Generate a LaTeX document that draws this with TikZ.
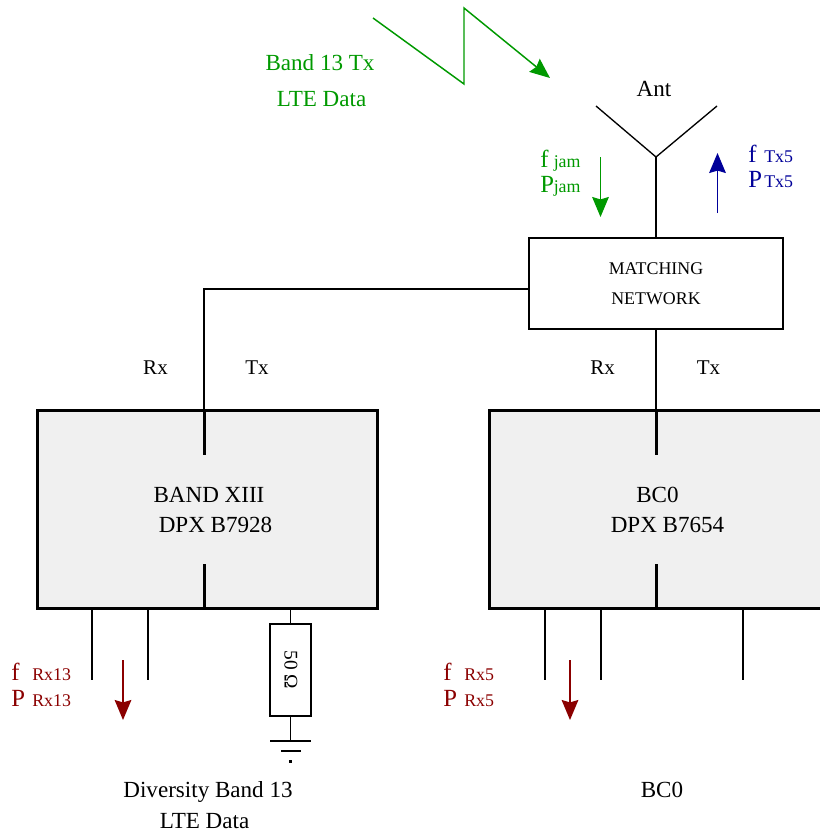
\documentclass[tikz,border=0pt]{standalone}
\usepackage{fontspec}
\setmainfont{Liberation Serif}
\usetikzlibrary{arrows.meta}
\definecolor{jamgreen}{HTML}{009900}
\definecolor{txblue}{HTML}{000099}
\definecolor{rxred}{HTML}{8B0000}
\definecolor{boxgray}{HTML}{F0F0F0}
\newcommand{\mainsize}{\fontsize{17.3}{20}\selectfont}
\newcommand{\subsize}{\fontsize{13.4}{16}\selectfont}

\begin{document}
\begin{tikzpicture}[x=0.75pt, y=-0.75pt,
  dpxbox/.style={rectangle, draw=black, fill=boxgray, line width=2.25pt, outer sep=0pt,
                 minimum width=255pt, minimum height=148.5pt},
  matchbox/.style={rectangle, draw=black, fill=white, line width=1pt, outer sep=0pt,
                   minimum width=190.5pt, minimum height=68.25pt},
  loadbox/.style={rectangle, draw=black, fill=white, line width=1pt, outer sep=0pt,
                  minimum width=30.75pt, minimum height=69pt},
  wire/.style={black, line width=1pt},
  port/.style={black, line width=2.25pt},
  flow/.style={-{Stealth[length=15pt, width=12.5pt, inset=1.8pt]}, line width=1.1pt},
  txt/.style={font=\mainsize, inner sep=0pt, anchor=base},
  symbig/.style={font=\fontsize{18.5}{20}\selectfont, inner sep=0pt, anchor=base west},
  sub/.style={font=\subsize, inner sep=0pt, anchor=base west}
]
\clip (0,0) rectangle (820,832);

%--- Blocks ---
\node[matchbox] (match) at (656,283.5) {};
\node[dpxbox] (dpxL) at (207,509) {};
\node[dpxbox] (dpxR) at (659,509) {};
\node[loadbox] (load) at (290.5,670) {};

%--- Block texts ---
\node[txt, font=\subsize] (matchA) at (656,274) {MATCHING};
\node[txt, font=\subsize] (matchB) at (656,304) {NETWORK};
\node[txt] (bandL) at (209,502) {BAND XIII};
\node[txt] (partL) at (215.5,532.5) {DPX B7928};
\node[txt] (bandR) at (657.5,502) {BC0};
\node[txt] (partR) at (667.5,532.5) {DPX B7654};
\node[font=\fontsize{14.5}{18}\selectfont, inner sep=0pt, rotate=-90] (ohm) at (291,670) {50 Ω};

%--- Antenna ---
\coordinate (apex) at (656,157);
\coordinate (armL) at (596,106);
\coordinate (armR) at (717,106);
\draw[wire] (armL) -- (apex) -- (armR);
\draw[wire] (apex) -- (match.north);
\node[txt] (ant) at (654,96) {Ant};

%--- Matching network to duplexers ---
\coordinate (tapL) at (529,289);
\coordinate (inL) at (204,410);
\coordinate (stubL) at (204,455);
\coordinate (outL) at (204,608);
\coordinate (backL) at (204,564);
\coordinate (inR) at (656,410);
\coordinate (stubR) at (656,455);
\coordinate (outR) at (656,608);
\coordinate (backR) at (656,564);
\draw[wire] (tapL) -| (inL);
\draw[wire] (match.south) -- (inR);
\draw[port] (inL) -- (stubL);
\draw[port] (backL) -- (outL);
\draw[port] (inR) -- (stubR);
\draw[port] (backR) -- (outR);

%--- Rx / Tx ---
\node[txt, font=\fontsize{15.75}{18}\selectfont] (rxL) at (155.5,374) {Rx};
\node[txt, font=\fontsize{15.75}{18}\selectfont] (txL) at (257,374) {Tx};
\node[txt, font=\fontsize{15.75}{18}\selectfont] (rxR) at (602.5,374) {Rx};
\node[txt, font=\fontsize{15.75}{18}\selectfont] (txR) at (708.5,374) {Tx};

%--- Output legs ---
\foreach \name/\xx in {a/92, b/148, c/545, d/601, e/743} {
  \coordinate (top\name) at (\xx,608);
  \coordinate (end\name) at (\xx,680);
  \draw[wire] (top\name) -- (end\name);
}

%--- Termination ---
\coordinate (topload) at (290.5,608);
\coordinate (gndA) at (290.5,741);
\coordinate (gndAl) at (270,741);
\coordinate (gndAr) at (311,741);
\coordinate (gndBl) at (281,751);
\coordinate (gndBr) at (301,751);
\draw[wire] (topload) -- (load.north);
\draw[wire] (load.south) -- (gndA);
\draw[wire] (gndAl) -- (gndAr);
\draw[wire] (gndBl) -- (gndBr);
\fill (289,759.5) rectangle (292,762.5);

%--- Jammer path ---
\coordinate (zigA) at (373,18);
\coordinate (zigB) at (464,84);
\coordinate (zigC) at (464,8);
\coordinate (zigD) at (550,78);
\draw[flow, jamgreen] (zigA) -- (zigB) -- (zigC) -- (zigD);
\node[txt, jamgreen] (jamA) at (320,70) {Band 13 Tx};
\node[txt, jamgreen] (jamB) at (321.5,106) {LTE Data};

\coordinate (jamTop) at (600.5,157);
\coordinate (jamEnd) at (600.5,217);
\draw[flow, jamgreen] (jamTop) -- (jamEnd);
\node[symbig, jamgreen] (fjam) at (540,167) {f};
\node[sub, jamgreen] (fjamS) at (553.5,167) {jam};
\node[symbig, jamgreen] (pjam) at (540,192) {P};
\node[sub, jamgreen] (pjamS) at (553.5,192) {jam};

%--- Tx power ---
\coordinate (txBot) at (717.5,213);
\coordinate (txTop) at (717.5,153);
\draw[flow, txblue] (txBot) -- (txTop);
\node[symbig, txblue] (ftx) at (748,162) {f};
\node[sub, txblue] (ftxS) at (764,162) {Tx5};
\node[symbig, txblue] (ptx) at (748,187) {P};
\node[sub, txblue] (ptxS) at (764,187) {Tx5};

%--- Rx power ---
\coordinate (rxAtop) at (123,660);
\coordinate (rxAend) at (123,720);
\coordinate (rxBtop) at (570,660);
\coordinate (rxBend) at (570,720);
\draw[flow, rxred] (rxAtop) -- (rxAend);
\draw[flow, rxred] (rxBtop) -- (rxBend);
\node[symbig, rxred] (frxA) at (11,680) {f};
\node[sub, rxred] (frxAs) at (32,680) {Rx13};
\node[symbig, rxred] (prxA) at (11,706) {P};
\node[sub, rxred] (prxAs) at (32,706) {Rx13};
\node[symbig, rxred] (frxB) at (443,680) {f};
\node[sub, rxred] (frxBs) at (464,680) {Rx5};
\node[symbig, rxred] (prxB) at (443,706) {P};
\node[sub, rxred] (prxBs) at (464,706) {Rx5};

%--- Captions ---
\node[txt] (capA) at (208,797) {Diversity Band 13};
\node[txt] (capB) at (204.5,828) {LTE Data};
\node[txt] (capC) at (662,797) {BC0};

\end{tikzpicture}
\end{document}
